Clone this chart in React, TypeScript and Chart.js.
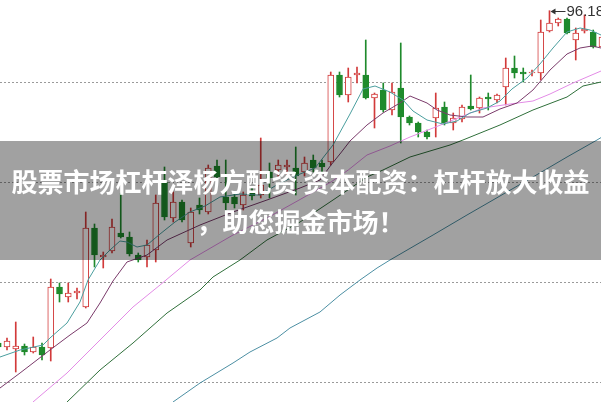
import React, { useEffect, useRef } from "react";
import { Chart, registerables } from "chart.js";

Chart.register(...registerables);

// ---- candle data (one entry per trading day) ----
const dayIndex = [
  0, 1, 2, 3, 4, 5, 6, 7, 8, 9, 10, 11, 12, 13, 14, 15, 16, 17, 18, 19,
  20, 21, 22, 23, 24, 25, 26, 27, 28, 29, 30, 31, 32, 33, 34, 35, 36, 37, 38, 39,
  40, 41, 42, 43, 44, 45, 46, 47, 48, 49, 50, 51, 52, 53, 54, 55, 56, 57, 58, 59,
  60, 61, 62, 63, 64, 65, 66, 67, 68, 69,
];
const openPrices = [
  62.95, 62.55, 62.35, 62.65, 62.05, 62.55, 62.45, 68.55, 67.55, 67.95,
  66.55, 74.45, 71.55, 72.15, 73.95, 73.55, 71.75, 71.55, 72.25, 79.05,
  75.45, 77.05, 72.95, 76.75, 76.05, 80.65, 77.55, 77.55, 76.75, 77.95,
  77.75, 80.05, 80.25, 80.55, 80.45, 80.05, 81.25, 80.95, 81.05, 89.75,
  87.75, 89.75, 89.75, 87.45, 88.25, 86.25, 88.45, 85.55, 84.95, 84.05,
  85.45, 86.55, 84.95, 85.35, 86.65, 86.45, 87.55, 87.25, 88.55, 90.45,
  90.05, 89.95, 89.95, 94.15, 94.95, 95.35, 93.25, 94.15, 94.05, 92.55,
];
const closePrices = [
  62.55, 63.15, 62.65, 62.05, 62.55, 61.75, 68.55, 67.85, 67.95, 68.15,
  74.45, 71.75, 71.75, 74.55, 73.55, 71.85, 71.25, 72.75, 76.95, 75.55,
  77.05, 75.25, 76.05, 76.25, 80.45, 79.55, 76.95, 76.85, 77.75, 77.65,
  78.75, 79.45, 80.75, 80.75, 79.65, 80.95, 80.45, 80.55, 89.75, 87.75,
  89.55, 89.95, 87.45, 87.85, 86.25, 88.05, 85.55, 84.95, 84.05, 83.55,
  86.45, 84.95, 85.45, 86.55, 86.35, 87.45, 87.35, 87.75, 90.45, 89.95,
  89.85, 90.05, 94.05, 94.95, 95.35, 93.95, 93.95, 94.35, 92.55, 93.55,
];
const highPrices = [
  63.25, 63.45, 65.05, 62.85, 63.55, 62.95, 69.35, 68.95, 68.95, 68.45,
  76.05, 74.85, 72.05, 75.35, 77.95, 74.05, 71.95, 73.25, 77.75, 80.55,
  78.05, 77.25, 76.45, 77.45, 80.75, 81.25, 81.25, 78.05, 78.05, 78.45,
  83.45, 80.95, 81.25, 81.25, 82.55, 81.55, 81.75, 81.25, 90.05, 90.05,
  90.45, 90.55, 93.25, 87.95, 88.95, 88.95, 92.95, 85.65, 85.05, 84.25,
  87.95, 87.05, 85.95, 86.75, 89.75, 87.55, 87.95, 87.85, 91.45, 91.65,
  90.45, 90.25, 95.25, 96.18, 95.45, 95.45, 94.45, 95.75, 94.25, 93.75,
];
const lowPrices = [
  62.25, 62.25, 60.05, 61.75, 61.95, 61.25, 61.15, 67.05, 67.05, 67.35,
  66.45, 70.55, 70.45, 71.95, 73.45, 71.65, 71.05, 70.55, 71.05, 75.25,
  75.05, 75.05, 72.55, 75.85, 75.85, 78.75, 76.25, 76.45, 76.25, 77.25,
  77.45, 77.45, 79.45, 79.75, 77.75, 79.65, 80.05, 80.05, 80.75, 87.55,
  87.05, 88.95, 87.35, 84.45, 86.05, 85.75, 82.95, 84.75, 83.55, 83.35,
  83.55, 84.75, 84.25, 85.05, 86.25, 85.95, 86.25, 86.95, 86.75, 89.45,
  89.05, 89.65, 89.25, 94.05, 94.65, 93.85, 91.25, 93.95, 92.45, 92.25,
];

// ---- moving averages (position in day units, value) ----
const ma5Pos = [0.2, 2.49, 5.11, 5.91, 7.86, 9.34, 10.26, 11.63, 12.77, 13.91, 14.71, 15.86, 17.0, 18.49, 20.2, 21.91, 23.63, 25.34, 27.63, 29.91, 32.2, 34.49, 36.2, 38.26, 40.2, 41.69, 43.06, 44.77, 46.26, 47.4, 49.0, 50.83, 52.43, 53.91, 55.86, 57.34, 58.71, 60.43, 61.91, 63.4, 65.0, 66.49, 67.63, 68.89];
const ma5Val = [61.55, 62.25, 62.75, 63.45, 64.95, 67.05, 69.25, 71.25, 72.25, 73.15, 73.05, 72.55, 72.75, 73.85, 75.05, 76.05, 76.65, 77.55, 77.85, 77.75, 78.95, 79.85, 80.45, 82.75, 85.85, 88.35, 88.65, 88.05, 87.25, 86.15, 85.25, 84.85, 85.15, 85.95, 86.45, 87.15, 88.35, 89.45, 90.85, 92.45, 94.05, 94.45, 94.25, 93.75];

const ma10Pos = [0.2, 2.49, 5.91, 8.2, 10.14, 11.63, 13.11, 14.71, 17.0, 19.29, 23.06, 26.83, 30.71, 34.49, 36.77, 38.03, 39.14, 40.2, 42.14, 43.97, 45.91, 47.06, 49.0, 50.14, 51.63, 53.57, 55.4, 57.34, 59.29, 61.11, 63.06, 65.0, 66.49, 67.86, 68.89];
const ma10Val = [58.45, 59.95, 62.25, 63.75, 64.95, 66.95, 69.15, 71.05, 71.75, 73.25, 74.75, 76.05, 77.25, 78.45, 79.25, 80.75, 81.95, 83.15, 84.75, 85.95, 86.95, 87.65, 86.95, 86.25, 85.75, 85.55, 85.55, 86.35, 86.95, 88.25, 90.25, 91.85, 92.45, 92.65, 92.45];

const ma20Pos = [3.97, 7.86, 11.63, 13.57, 15.4, 18.49, 21.91, 26.83, 30.71, 34.49, 38.03, 40.0, 42.14, 44.77, 47.06, 49.69, 53.11, 55.4, 58.49, 61.11, 63.06, 65.69, 68.89];
const ma20Val = [57.05, 59.95, 63.25, 64.95, 66.55, 68.75, 71.25, 73.75, 75.45, 77.3, 79.05, 80.25, 81.75, 82.65, 83.55, 84.45, 85.65, 86.45, 86.85, 87.15, 87.85, 88.95, 90.15];

const ma30Pos = [7.86, 11.63, 15.4, 19.29, 23.06, 24.54, 27.63, 30.71, 34.49, 38.26, 42.14, 43.97, 47.06, 51.63, 53.11, 57.34, 61.11, 65.0, 66.83, 68.89];
const ma30Val = [57.05, 60.25, 62.95, 65.95, 68.25, 69.55, 71.25, 73.25, 75.05, 77.25, 79.55, 80.25, 81.55, 82.75, 83.25, 84.75, 86.25, 87.55, 88.65, 89.05];

const ma60Pos = [19.97, 23.06, 26.83, 28.77, 31.86, 33.34, 36.77, 39.06, 41.34, 43.29, 44.77, 49.69, 53.57, 57.34, 61.11, 65.0, 68.43, 69.0];
const ma60Val = [57.05, 58.95, 60.95, 62.05, 63.45, 64.45, 66.05, 67.75, 69.25, 70.45, 71.25, 73.75, 75.75, 77.65, 79.55, 81.55, 83.25, 83.55];

// ---- axis / text ----
const gridValues = [59, 69, 79, 89];
const titleLines = ["股票市场杠杆泽杨方配资 资本配资：杠杆放大收益", "，助您掘金市场！"];

const RED = "#d23a3a";
const GREEN = "#1f8a2c";

const peakLabel = {
  id: "peakLabel",
  afterDatasetsDraw(chart: any) {
    const xs = chart.scales.x;
    const ys = chart.scales.y;
    let k = 0;
    highPrices.forEach((h, i) => {
      if (h > highPrices[k]) k = i;
    });
    const px = xs.getPixelForValue(dayIndex[k]);
    const py = Math.round(ys.getPixelForValue(highPrices[k])) + 0.5;
    const ctx = chart.ctx;
    ctx.save();
    ctx.strokeStyle = "#333";
    ctx.fillStyle = "#333";
    ctx.lineWidth = 1;
    ctx.beginPath();
    ctx.moveTo(px + 3, py);
    ctx.lineTo(px + 16, py);
    ctx.stroke();
    ctx.beginPath();
    ctx.moveTo(px + 1, py);
    ctx.lineTo(px + 6, py - 3);
    ctx.lineTo(px + 6, py + 3);
    ctx.closePath();
    ctx.fill();
    ctx.font = '15px "Liberation Sans", Arial, sans-serif';
    ctx.textBaseline = "middle";
    ctx.fillText(highPrices[k].toFixed(2), px + 17, py);
    ctx.restore();
  },
};

function line(label: string, pos: number[], val: number[], color: string) {
  return {
    type: "line" as const,
    label,
    data: pos.map((x, i) => ({ x, y: val[i] })),
    borderColor: color,
    borderWidth: 1,
    pointRadius: 0,
    tension: 0,
    fill: false,
    order: -1,
  };
}

export default function App() {
  const ref = useRef<HTMLCanvasElement>(null);

  useEffect(() => {
    if (!ref.current) return;
    const isUp = (i: number) => closePrices[i] >= openPrices[i];
    const chart = new Chart(ref.current, {
      type: "bar",
      data: {
        datasets: [
          line("MA5", ma5Pos, ma5Val, "#4a9e9e"),
          line("MA10", ma10Pos, ma10Val, "#7a3a6a"),
          line("MA20", ma20Pos, ma20Val, "#e38be6"),
          line("MA30", ma30Pos, ma30Val, "#2f6f3a"),
          line("MA60", ma60Pos, ma60Val, "#4c8fa3"),
          {
            type: "bar",
            label: "body",
            data: dayIndex.map((d, i) => ({ x: d, y: [openPrices[i], closePrices[i]] })) as any,
            backgroundColor: dayIndex.map((_, i) => (isUp(i) ? "#ffffff" : GREEN)),
            borderColor: dayIndex.map((_, i) => (isUp(i) ? RED : GREEN)),
            borderWidth: 1,
            borderSkipped: false,
            barThickness: 6,
            grouped: false,
            order: 0,
          } as any,
          {
            type: "bar",
            label: "wick",
            data: dayIndex.map((d, i) => ({ x: d, y: [lowPrices[i], highPrices[i]] })) as any,
            backgroundColor: dayIndex.map((_, i) => (isUp(i) ? RED : GREEN)),
            borderWidth: 0,
            barThickness: 1,
            grouped: false,
            order: 1,
          } as any,
        ],
      },
      options: {
        responsive: false,
        animation: false,
        events: [],
        layout: { padding: 0 },
        plugins: { legend: { display: false }, tooltip: { enabled: false } },
        scales: {
          x: {
            type: "linear",
            display: false,
            min: 0.2,
            max: 0.2 + 601 / 8.75,
            offset: false,
          },
          y: {
            type: "linear",
            min: 57.05,
            max: 97.25,
            afterBuildTicks: (scale: any) => {
              scale.ticks = gridValues.map((v) => ({ value: v }));
            },
            afterFit: (scale: any) => {
              scale.width = 0;
            },
            ticks: { display: false },
            grid: { drawTicks: false, color: "#9a9a9a", lineWidth: 1 },
            border: { display: false, dash: [2, 2] },
          },
        },
      },
      plugins: [peakLabel],
    });
    return () => chart.destroy();
  }, []);

  return (
    <div style={{ position: "absolute", left: 0, top: 0, width: 601, height: 402, background: "#fff", overflow: "hidden" }}>
      <canvas ref={ref} width={601} height={402} style={{ display: "block" }} />
      <div
        style={{
          position: "absolute",
          left: 0,
          top: 141,
          width: 601,
          height: 119,
          background: "rgba(0,0,0,0.37)",
          display: "flex",
          flexDirection: "column",
          justifyContent: "center",
          alignItems: "center",
          color: "#ffffff",
          fontFamily: '"Noto Sans CJK SC", sans-serif',
          fontWeight: 700,
          fontSize: 26,
          lineHeight: "40px",
          whiteSpace: "nowrap",
        }}
      >
        {titleLines.map((t, i) => (
          <div key={i}>{t}</div>
        ))}
      </div>
    </div>
  );
}
